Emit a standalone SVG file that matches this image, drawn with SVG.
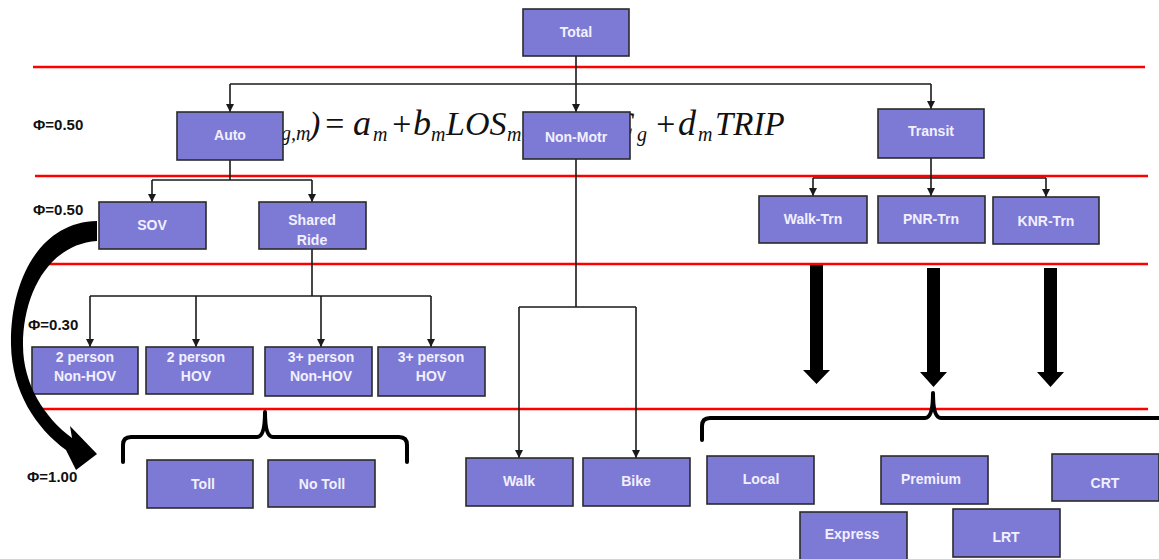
<svg xmlns="http://www.w3.org/2000/svg" width="1159" height="559" viewBox="0 0 1159 559">
<defs>
<marker id="ah" viewBox="0 0 10 10" refX="10" refY="5" markerWidth="8" markerHeight="8" markerUnits="userSpaceOnUse" orient="auto">
<path d="M0,0 L10,5 L0,10 z" fill="#1a1a1a"/>
</marker>
<style>
.red{stroke:#ff0000;stroke-width:2.5;fill:none}
.node rect{fill:#7d7ad6;stroke:#2b2b2b;stroke-width:1.6}
.node text{font-family:"Liberation Sans",Arial,sans-serif;font-weight:bold;font-size:14px;fill:#f2f0ff;text-anchor:middle}
.conn path{stroke:#1a1a1a;stroke-width:1.6;fill:none}
.conn path.arr{marker-end:url(#ah)}
.phi{font-family:"Liberation Sans",Arial,sans-serif;font-weight:bold;font-size:15px;fill:#111}
.eq{font-family:"Liberation Serif","Times New Roman",serif;font-style:italic;fill:#111}
.big{fill:#000}
.brace{stroke:#000;stroke-width:4;fill:none;stroke-linecap:round;stroke-linejoin:round}
</style>
</defs>
<rect width="1159" height="559" fill="#ffffff"/>
<g id="red-lines">
<line class="red" x1="33" y1="67" x2="1145" y2="67"/>
<line class="red" x1="35" y1="176" x2="1148" y2="176"/>
<line class="red" x1="40" y1="264" x2="1148" y2="264"/>
<line class="red" x1="38" y1="409" x2="1148" y2="409"/>
</g>
<g id="phi-labels">
<text class="phi" x="33" y="130">Φ=0.50</text>
<text class="phi" x="33" y="215">Φ=0.50</text>
<text class="phi" x="28" y="330">Φ=0.30</text>
<text class="phi" x="27" y="482">Φ=1.00</text>
</g>
<g id="equation">
<text class="eq" font-size="34" x="254" y="135">(</text>
<text class="eq" font-size="20" x="281" y="140">g,m</text>
<text class="eq" font-size="34" x="309" y="135" font-style="normal">)</text>
<text class="eq" font-size="34" x="323" y="135" font-style="normal">=</text>
<text class="eq" font-size="36" x="353" y="135">a</text>
<text class="eq" font-size="20" x="373" y="141">m</text>
<text class="eq" font-size="34" x="390" y="135" font-style="normal">+</text>
<text class="eq" font-size="36" x="413" y="135">b</text>
<text class="eq" font-size="20" x="431" y="141">m</text>
<text class="eq" font-size="34" x="446" y="135">LOS</text>
<text class="eq" font-size="20" x="507" y="141">m</text>
<text class="eq" font-size="34" x="611" y="135">C</text>
<text class="eq" font-size="20" x="637" y="141">g</text>
<text class="eq" font-size="34" x="654" y="135" font-style="normal">+</text>
<text class="eq" font-size="36" x="678" y="135">d</text>
<text class="eq" font-size="20" x="698" y="141">m</text>
<text class="eq" font-size="33" x="715" y="135">TRIP</text>
</g>
<g id="connectors" class="conn">
<path d="M576,56 L576,84"/>
<path d="M230,84 L931,84"/>
<path class="arr" d="M230,84 L230,112"/>
<path class="arr" d="M576,84 L576,112"/>
<path class="arr" d="M931,84 L931,109"/>
<path d="M230,160 L230,180 M152,180 L312,180"/>
<path class="arr" d="M152,180 L152,202"/>
<path class="arr" d="M312,180 L312,202"/>
<path d="M312,249 L312,296 M90,296 L431,296"/>
<path class="arr" d="M90,296 L90,347"/>
<path class="arr" d="M196,296 L196,347"/>
<path class="arr" d="M321,296 L321,347"/>
<path class="arr" d="M431,296 L431,347"/>
<path d="M576,159 L576,307 M519,307 L636,307"/>
<path class="arr" d="M519,307 L519,458"/>
<path class="arr" d="M636,307 L636,458"/>
<path d="M931,158 L931,178 M813,178 L1046,178"/>
<path class="arr" d="M813,178 L813,196"/>
<path class="arr" d="M931,178 L931,196"/>
<path class="arr" d="M1046,178 L1046,197"/>
</g>
<g id="node-total" class="node"><rect x="523" y="9" width="106" height="47"/><text x="576" y="37">Total</text></g>
<g id="node-auto" class="node"><rect x="177" y="112" width="106" height="48"/><text x="230" y="140">Auto</text></g>
<g id="node-nonmotr" class="node"><rect x="523" y="112" width="107" height="47"/><text x="576" y="142">Non-Motr</text></g>
<g id="node-transit" class="node"><rect x="878" y="109" width="106" height="49"/><text x="931" y="136">Transit</text></g>
<g id="node-sov" class="node"><rect x="99" y="202" width="107" height="47"/><text x="152" y="230">SOV</text></g>
<g id="node-shared" class="node"><rect x="259" y="202" width="107" height="47"/><text x="312" y="225">Shared</text><text x="312" y="245">Ride</text></g>
<g id="node-walktrn" class="node"><rect x="759" y="196" width="108" height="47"/><text x="813" y="224">Walk-Trn</text></g>
<g id="node-pnrtrn" class="node"><rect x="878" y="196" width="107" height="47"/><text x="931" y="224">PNR-Trn</text></g>
<g id="node-knrtrn" class="node"><rect x="993" y="197" width="106" height="47"/><text x="1046" y="226">KNR-Trn</text></g>
<g id="node-2p-nonhov" class="node"><rect x="32" y="347" width="106" height="47"/><text x="85" y="362">2 person</text><text x="85" y="381">Non-HOV</text></g>
<g id="node-2p-hov" class="node"><rect x="146" y="347" width="107" height="47"/><text x="196" y="362">2 person</text><text x="196" y="381">HOV</text></g>
<g id="node-3p-nonhov" class="node"><rect x="265" y="347" width="107" height="49"/><text x="321" y="362">3+ person</text><text x="321" y="381">Non-HOV</text></g>
<g id="node-3p-hov" class="node"><rect x="378" y="347" width="107" height="49"/><text x="431" y="362">3+ person</text><text x="431" y="381">HOV</text></g>
<g id="node-toll" class="node"><rect x="147" y="460" width="106" height="48"/><text x="203" y="489">Toll</text></g>
<g id="node-notoll" class="node"><rect x="268" y="460" width="107" height="47"/><text x="322" y="489">No Toll</text></g>
<g id="node-walk" class="node"><rect x="466" y="458" width="107" height="48"/><text x="519" y="486">Walk</text></g>
<g id="node-bike" class="node"><rect x="583" y="458" width="107" height="48"/><text x="636" y="486">Bike</text></g>
<g id="node-local" class="node"><rect x="707" y="456" width="107" height="48"/><text x="761" y="484">Local</text></g>
<g id="node-premium" class="node"><rect x="881" y="456" width="107" height="48"/><text x="931" y="484">Premium</text></g>
<g id="node-crt" class="node"><rect x="1052" y="454" width="107" height="47"/><text x="1105" y="488">CRT</text></g>
<g id="node-express" class="node"><rect x="800" y="512" width="107" height="50"/><text x="852" y="539">Express</text></g>
<g id="node-lrt" class="node"><rect x="953" y="509" width="107" height="48"/><text x="1006" y="542">LRT</text></g>
<g id="big-arrows">
<path class="big" d="M97,221 C40,222 10,280 11,345 C12,392 36,428 66,450 L76,470 L97,454 L70,426 L72,438 C45,418 23,385 23,345 C23,292 50,244 97,241 Z"/>
<polygon class="big" points="810,265 823,265 823,370 830,370 816.5,384 803,370 810,370"/>
<polygon class="big" points="927,268 940,268 940,372 947,372 933.5,387 920,372 927,372"/>
<polygon class="big" points="1044,268 1057,268 1057,372 1064,372 1050.5,387 1037,372 1044,372"/>
</g>
<g id="braces">
<path class="brace" d="M123,462 L123,445 Q123,437 131,437 L257,437 Q265,437 265,412 Q265,437 273,437 L399,437 Q407,437 407,445 L407,462"/>
<path class="brace" d="M702,440 L702,426 Q702,418 710,418 L925,418 Q933,418 933,393 Q933,418 941,418 L1159,418"/>
</g>
</svg>
